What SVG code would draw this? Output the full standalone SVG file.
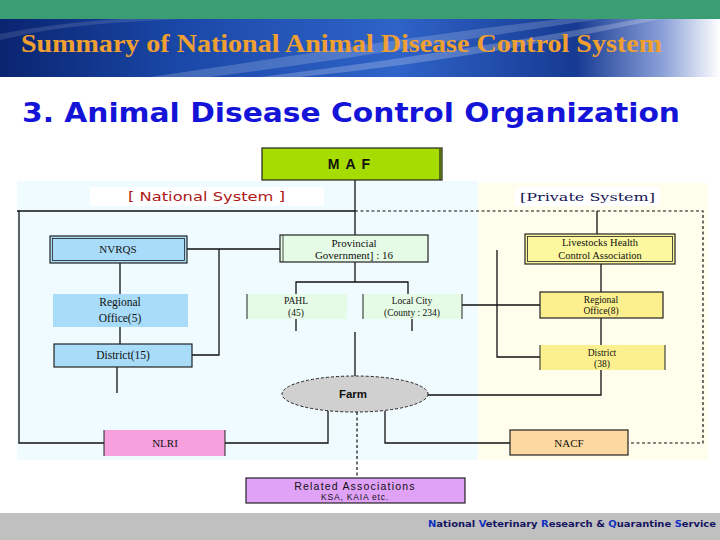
<svg xmlns="http://www.w3.org/2000/svg" width="720" height="540" viewBox="0 0 720 540">
<defs>
<linearGradient id="ban" x1="0" y1="0" x2="1" y2="0">
<stop offset="0" stop-color="#0a2470"/>
<stop offset="0.25" stop-color="#1a48a8"/>
<stop offset="0.55" stop-color="#2f63c8"/>
<stop offset="0.8" stop-color="#163a92"/>
<stop offset="0.92" stop-color="#8aa0d8"/>
<stop offset="1" stop-color="#ffffff"/>
</linearGradient>
<style>
.ser{font-family:"Liberation Serif","Times New Roman",serif;fill:#111}
.san{font-family:"Liberation Sans",Arial,sans-serif;fill:#111}
.ln{stroke:#111;stroke-width:1.3;fill:none}
.dl{stroke:#111;stroke-width:1.2;fill:none;stroke-dasharray:3 2.5}
.bx{stroke:#222;stroke-width:1.2}
</style>
</defs>
<rect x="0" y="0" width="720" height="540" fill="#ffffff"/>
<!-- header -->
<rect x="0" y="0" width="720" height="19" fill="#3a9e72"/>
<rect x="0" y="19" width="720" height="58" fill="url(#ban)"/>
<path d="M150 77 C300 55 420 35 560 19 L600 19 C460 40 330 62 210 77 Z" fill="#ffffff" opacity="0.18"/>
<path d="M260 77 C400 60 520 40 640 19 L660 19 C540 45 420 65 300 77 Z" fill="#ffffff" opacity="0.22"/>
<path d="M0 40 C60 25 120 22 180 19 L120 19 C70 22 30 28 0 34 Z" fill="#ffffff" opacity="0.12"/>
<text x="21" y="52" font-family="'Liberation Serif','Times New Roman',serif" font-weight="bold" font-size="26" fill="#f0a030" textLength="641" lengthAdjust="spacingAndGlyphs">Summary of National Animal Disease Control System</text>
<text x="22" y="122" font-family="'DejaVu Sans',Verdana,sans-serif" font-weight="bold" font-size="27" fill="#1414d8" textLength="658" lengthAdjust="spacingAndGlyphs">3. Animal Disease Control Organization</text>
<!-- panels -->
<rect x="17" y="181" width="461" height="279" fill="#f0fbff"/>
<rect x="478" y="183" width="230" height="277" fill="#fffdec"/>
<rect x="90" y="187" width="234" height="19" fill="#ffffff"/>
<rect x="515" y="187" width="145" height="19" fill="#ffffff"/>
<text x="128" y="201" font-family="'DejaVu Sans',Verdana,sans-serif" font-size="11.5" fill="#b01818" textLength="157" lengthAdjust="spacingAndGlyphs">[ National System ]</text>
<text x="520" y="201" font-family="'DejaVu Serif','Liberation Serif',serif" font-size="11.5" fill="#141450" textLength="135" lengthAdjust="spacingAndGlyphs">[Private System]</text>
<!-- connectors -->
<g id="connectors">
<path class="ln" d="M355 180 V235"/>
<path class="ln" d="M17 211 H355"/>
<path class="dl" d="M355 211 H703 V443 H628"/>
<path class="ln" d="M19 211 V443 H104"/>
<path class="ln" d="M187 249 H280"/>
<path class="ln" d="M219 249 V355 H192"/>
<path class="ln" d="M120 263 V294"/>
<path class="ln" d="M120 327 V344"/>
<path class="ln" d="M117 367 V393"/>
<path class="ln" d="M355 262 V282"/>
<path class="ln" d="M296 294 V282 H408 V294"/>
<path class="ln" d="M296 319 V331"/>
<path class="ln" d="M412 319 V331"/>
<path class="ln" d="M355 332 V376"/>
<path class="ln" d="M462 305 H540"/>
<path class="ln" d="M428 395 H601 V370"/>
<path class="ln" d="M328 411 V443 H225"/>
<path class="ln" d="M385 411 V443 H510"/>
<path class="dl" d="M357 412 V478"/>
<path class="ln" d="M597 211 V234"/>
<path class="ln" d="M601 264 V292"/>
<path class="ln" d="M601 318 V345"/>
<path class="ln" d="M497 250 V357 H540"/>
</g>
<!-- nodes -->
<g id="maf">
<rect x="262" y="148" width="180" height="32" fill="#a6dc00" class="bx"/>
<path d="M440 149 V180" stroke="#222" stroke-width="1.2"/>
<text x="352" y="169" text-anchor="middle" class="san" font-weight="bold" font-size="14" letter-spacing="6">MAF</text>
</g>
<g id="nvrqs">
<rect x="50" y="236" width="137" height="27" fill="#a8dcf8" class="bx"/>
<rect x="52.5" y="238.5" width="132" height="22" fill="none" stroke="#222" stroke-width="0.8"/>
<text x="118" y="253" text-anchor="middle" class="ser" font-size="11">NVRQS</text>
</g>
<g id="provincial">
<rect x="280" y="235" width="148" height="27" fill="#e6fbe6" class="bx"/>
<path d="M283 235 V262" stroke="#222" stroke-width="0.8"/>
<text x="354" y="247" text-anchor="middle" class="ser" font-size="11">Provincial</text>
<text x="354" y="258.5" text-anchor="middle" class="ser" font-size="11">Government] : 16</text>
</g>
<g id="regional5">
<rect x="53" y="294" width="135" height="33" fill="#a8dcf8"/>
<text x="120" y="306" text-anchor="middle" class="ser" font-size="11.5">Regional</text>
<text x="120" y="322" text-anchor="middle" class="ser" font-size="11.5">Office(5)</text>
</g>
<g id="district15">
<rect x="54" y="344" width="138" height="23" fill="#a8dcf8" class="bx"/>
<text x="123" y="359" text-anchor="middle" class="ser" font-size="11.5">District(15)</text>
</g>
<g id="pahl">
<rect x="247" y="294" width="100" height="25" fill="#e6fbe6"/>
<path d="M247 294 V319" stroke="#222" stroke-width="1"/>
<text x="296" y="304" text-anchor="middle" class="ser" font-size="9.5">PAHL</text>
<text x="296" y="315.5" text-anchor="middle" class="ser" font-size="9.5">(45)</text>
</g>
<g id="localcity">
<rect x="363" y="294" width="99" height="25" fill="#e6fbe6"/>
<path d="M363 294 V319 M462 294 V319" stroke="#222" stroke-width="1"/>
<text x="412" y="304" text-anchor="middle" class="ser" font-size="9.5">Local City</text>
<text x="412" y="315.5" text-anchor="middle" class="ser" font-size="9.5">(County : 234)</text>
</g>
<g id="farm">
<ellipse cx="355" cy="394" rx="73" ry="18" fill="#d0d0d0" stroke="#222" stroke-width="1" stroke-dasharray="3 2"/>
<text x="353" y="398" text-anchor="middle" class="san" font-weight="bold" font-size="11.5">Farm</text>
</g>
<g id="nlri">
<rect x="104" y="430" width="121" height="26" fill="#f6a0de"/>
<path d="M104 430 V456 M225 430 V456" stroke="#222" stroke-width="1"/>
<text x="165" y="447" text-anchor="middle" class="ser" font-size="11">NLRI</text>
</g>
<g id="nacf">
<rect x="510" y="430" width="118" height="25" fill="#fcd9a0" class="bx"/>
<text x="569" y="447" text-anchor="middle" class="ser" font-size="11">NACF</text>
</g>
<g id="related">
<rect x="246" y="478" width="219" height="25" fill="#e0a2f6" class="bx"/>
<text x="355" y="489.5" text-anchor="middle" class="san" font-size="10.5" letter-spacing="1.2">Related Associations</text>
<text x="355" y="500" text-anchor="middle" class="san" font-size="8.5" letter-spacing="0.8">KSA, KAIA etc.</text>
</g>
<g id="livestock">
<rect x="525" y="234" width="150" height="30" fill="#fcf8a0" class="bx"/>
<rect x="527.5" y="236.5" width="145" height="25" fill="none" stroke="#222" stroke-width="0.8"/>
<text x="600" y="246" text-anchor="middle" class="ser" font-size="10.5">Livestocks Health</text>
<text x="600" y="259" text-anchor="middle" class="ser" font-size="10.5">Control Association</text>
</g>
<g id="regional8">
<rect x="540" y="292" width="123" height="26" fill="#fcf08e" class="bx"/>
<text x="601" y="302.5" text-anchor="middle" class="ser" font-size="9.5">Regional</text>
<text x="601" y="314" text-anchor="middle" class="ser" font-size="9.5">Office(8)</text>
</g>
<g id="district38">
<rect x="540" y="345" width="125" height="25" fill="#fcf08e"/>
<path d="M540 345 V370 M665 345 V370" stroke="#222" stroke-width="1"/>
<text x="602" y="355.5" text-anchor="middle" class="ser" font-size="9.5">District</text>
<text x="602" y="367" text-anchor="middle" class="ser" font-size="9.5">(38)</text>
</g>
<!-- footer -->
<rect x="0" y="513" width="720" height="27" fill="#c0c0c0"/>
<text x="428" y="527" font-family="'DejaVu Sans',Verdana,sans-serif" font-weight="bold" font-size="9.5" fill="#141460" textLength="288" lengthAdjust="spacingAndGlyphs"><tspan fill="#1030c0">N</tspan>ational <tspan fill="#1030c0">V</tspan>eterinary <tspan fill="#1030c0">R</tspan>esearch &amp; <tspan fill="#1030c0">Q</tspan>uarantine <tspan fill="#1030c0">S</tspan>ervice</text>
</svg>
